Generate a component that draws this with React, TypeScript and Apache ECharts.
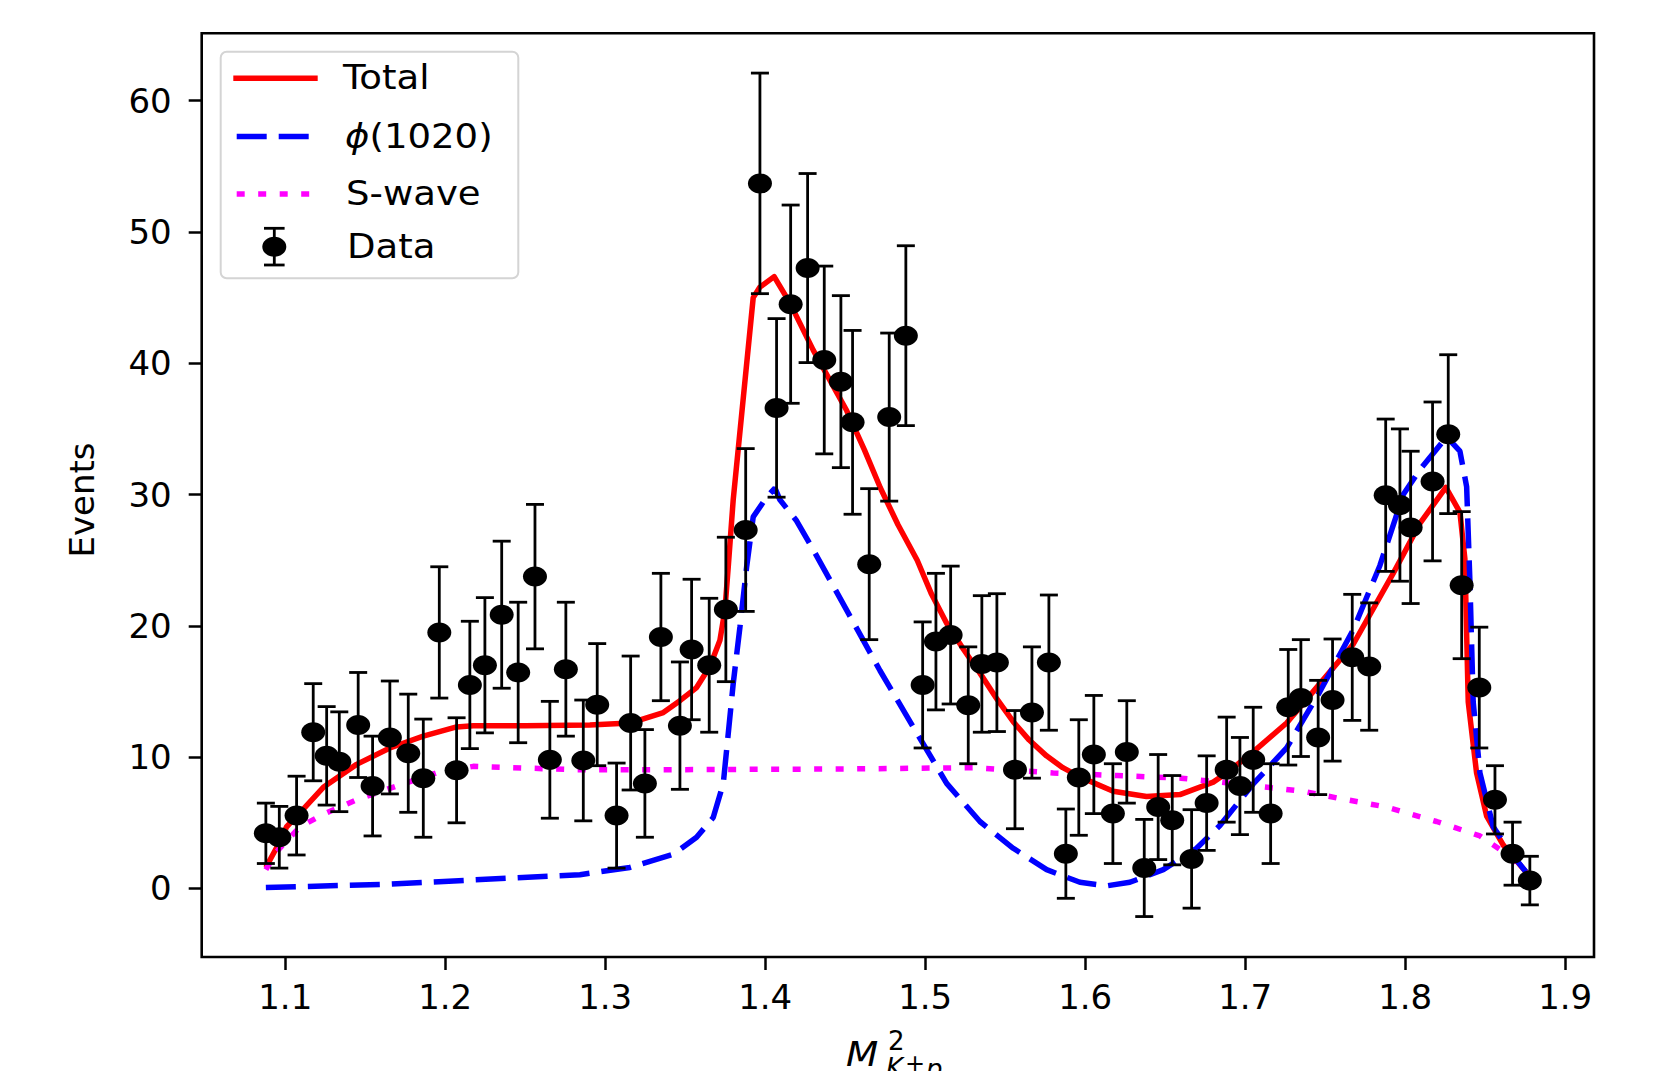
import React, { useEffect, useRef } from "react";
import * as echarts from "echarts";

// ---- Data ----
const dataX = [1.0879,1.0963,1.1071,1.1175,1.1259,1.1338,1.1456,1.1546,1.1654,1.1769,
  1.1863,1.1963,1.2071,1.2154,1.2248,1.2353,1.2456,1.2561,1.2654,1.2754,
  1.2863,1.2950,1.3071,1.3159,1.3248,1.3348,1.3467,1.3540,1.3650,1.3754,
  1.3878,1.3967,1.4071,1.4159,1.4265,1.4369,1.4473,1.4546,1.4650,1.4775,
  1.4879,1.4984,1.5067,1.5159,1.5269,1.5354,1.5448,1.5561,1.5667,1.5773,
  1.5879,1.5960,1.6054,1.6173,1.6260,1.6369,1.6456,1.6544,1.6665,1.6759,
  1.6884,1.6967,1.7050,1.7159,1.7269,1.7348,1.7456,1.7546,1.7669,1.7775,
  1.7878,1.7967,1.8034,1.8171,1.8269,1.8353,1.8463,1.8561,1.8671,1.8779];
const dataY = [4.2,3.9,5.55,11.9,10.1,9.65,12.45,7.8,11.5,10.3,
  8.4,19.5,9.0,15.5,17.0,20.85,16.45,23.75,9.8,16.7,
  9.75,14.0,5.55,12.6,8.0,19.15,12.4,18.2,17.0,21.25,
  27.3,53.7,36.6,44.5,47.25,40.25,38.6,35.5,24.7,35.9,
  42.1,15.5,18.8,19.3,13.95,17.1,17.2,9.05,13.4,17.2,
  2.65,8.45,10.2,5.7,10.4,1.56,6.2,5.2,2.25,6.5,
  9.05,7.8,9.8,5.7,13.8,14.5,11.5,14.35,17.6,16.9,
  29.95,29.2,27.5,31.0,34.6,23.1,15.3,6.75,2.65,0.6];
const dataErr = [2.3,2.35,3.0,3.7,3.75,3.8,4.0,3.8,4.3,4.5,
  4.5,5.0,4.0,4.85,5.15,5.6,5.35,5.5,4.45,5.1,
  4.6,4.65,4.0,5.1,4.1,4.85,4.85,5.35,5.1,5.5,
  6.2,8.4,6.8,7.55,7.2,7.15,6.55,7.0,5.75,6.4,
  6.85,4.8,5.2,5.25,4.45,5.2,5.25,4.5,5.0,5.15,
  3.4,4.4,4.5,3.8,3.9,3.7,4.0,3.4,3.75,3.6,
  4.0,3.7,4.0,3.8,4.4,4.45,4.35,4.65,4.8,4.85,
  5.8,5.8,5.8,6.05,6.05,5.6,4.6,2.6,2.4,1.85];

const totalX = [1.0879,1.0950,1.1009,1.1113,1.1238,1.1446,1.1654,1.1863,1.2071,1.2175,1.2500,1.2904,1.3154,1.3363,1.3467,1.3571,1.3654,1.3717,1.3748,1.3769,1.3800,1.3925,1.3967,1.4056,1.4154,1.4300,1.4509,1.4620,1.4720,1.4830,1.4950,1.5040,1.5134,1.5240,1.5342,1.5450,1.5550,1.5650,1.5758,1.5860,1.5967,1.6175,1.6383,1.6592,1.6800,1.6884,1.7050,1.7259,1.7467,1.7675,1.7925,1.8092,1.8254,1.8342,1.8373,1.8394,1.8446,1.8509,1.8613,1.8779];
const totalY = [1.6,3.2,4.7,6.05,7.7,9.45,10.7,11.6,12.3,12.4,12.4,12.45,12.6,13.4,14.3,15.3,16.9,18.9,21.2,24.5,29.6,45.0,45.8,46.6,44.6,41.0,36.4,33.4,30.5,27.7,25.0,22.4,20.2,18.2,16.4,14.4,12.7,11.3,10.1,9.2,8.5,7.4,7.0,7.15,8.1,8.8,10.4,12.6,15.6,18.6,24.0,27.8,30.55,28.65,25.1,14.2,8.8,5.5,3.3,0.9];

const phiX = [1.0879,1.1654,1.2842,1.3154,1.3425,1.3571,1.3675,1.3738,1.3769,1.3800,1.3842,1.3884,1.3925,1.4009,1.4061,1.4092,1.4196,1.4300,1.4509,1.4717,1.4925,1.5134,1.5342,1.5550,1.5759,1.5967,1.6134,1.6279,1.6488,1.6696,1.6842,1.7050,1.7259,1.7467,1.7675,1.7842,1.7988,1.8092,1.8259,1.8342,1.8384,1.8404,1.8425,1.8467,1.8550,1.8654,1.8779];
const phiY = [0.07,0.33,1.05,1.6,2.6,3.9,5.4,8.0,11.8,15.6,19.9,24.5,28.3,29.8,30.5,29.6,28.0,25.8,21.2,16.6,12.3,8.0,5.1,3.06,1.43,0.47,0.2,0.47,1.43,3.06,4.8,7.96,10.7,15.0,19.7,24.6,30.0,31.9,34.4,33.3,30.6,23.5,14.2,8.8,4.7,2.8,0.9];

const swaveX = [1.0879,1.0946,1.1092,1.1238,1.1446,1.1696,1.1946,1.2175,1.2800,1.3500,1.4500,1.5300,1.5800,1.6200,1.6600,1.6842,1.7363,1.7571,1.7884,1.8196,1.8467,1.8613,1.8779];
const swaveY = [1.43,2.8,4.7,5.65,6.75,7.8,8.8,9.3,9.05,9.05,9.1,9.2,8.8,8.6,8.4,8.1,7.4,6.9,6.2,5.1,4.0,2.8,0.9];

const xTicks = [1.1, 1.2, 1.3, 1.4, 1.5, 1.6, 1.7, 1.8, 1.9];
const yTicks = [0, 10, 20, 30, 40, 50, 60];

const FONT = "DejaVu Sans";

export default function App() {
  const ref = useRef<HTMLDivElement>(null);
  useEffect(() => {
    if (!ref.current) return;
    const chart = echarts.init(ref.current, null, { renderer: "svg" });
    const zip = (xs: number[], ys: number[]) => xs.map((x, i) => [x, ys[i]]);
    const legendText = (text: string, x: number, y: number, extra: any = {}) => ({
      type: "text", z: 101, x, y, scaleX: 1.09,
      style: { text, font: `34px '${FONT}'`, fill: "#000", verticalAlign: "middle", align: "left", ...extra },
    });
    const option: any = {
      animation: false,
      backgroundColor: "#ffffff",
      grid: {
        left: 201.7, top: 33.3, right: 67, bottom: 114,
        show: true, borderColor: "#000", borderWidth: 2.6,
        backgroundColor: "transparent",
        containLabel: false, outerBoundsMode: "none",
      },
      xAxis: {
        type: "value", min: 1.0478, max: 1.918, position: "bottom",
        axisLine: { show: false, onZero: false },
        splitLine: { show: false },
        axisTick: { show: true, length: 13, customValues: xTicks, lineStyle: { color: "#000", width: 2.5 } },
        axisLabel: {
          customValues: xTicks, margin: 23, fontSize: 34, fontFamily: FONT, color: "#000",
          formatter: (v: number) => v.toFixed(1),
        },
      },
      yAxis: {
        type: "value", min: -5.22, max: 65.13, position: "left",
        axisLine: { show: false, onZero: false },
        splitLine: { show: false },
        axisTick: { show: true, length: 13, customValues: yTicks, lineStyle: { color: "#000", width: 2.5 } },
        axisLabel: {
          customValues: yTicks, margin: 30, fontSize: 34, fontFamily: FONT, color: "#000",
          formatter: (v: number) => String(Math.round(v)),
        },
      },
      series: [
        {
          name: "Total", type: "line", data: zip(totalX, totalY), showSymbol: false, z: 3,
          lineStyle: { color: "#ff0000", width: 5.5, cap: "butt", join: "round" },
        },
        {
          name: "φ(1020)", type: "line", data: zip(phiX, phiY), showSymbol: false, z: 4,
          lineStyle: { color: "#0000ff", width: 5.5, type: [30, 12], cap: "butt" },
        },
        {
          name: "S-wave", type: "line", data: zip(swaveX, swaveY), showSymbol: false, z: 4,
          lineStyle: { color: "#ff00ff", width: 5.5, type: [8, 13.5], cap: "butt" },
        },
        {
          name: "Data", type: "custom", z: 5,
          data: dataX.map((x, i) => [x, dataY[i], dataErr[i]]),
          encode: { x: 0, y: 1 },
          renderItem: (params: any, api: any) => {
            const x = api.value(0), y = api.value(1), e = api.value(2);
            const c = api.coord([x, y]);
            const t = api.coord([x, y + e]);
            const b = api.coord([x, y - e]);
            const st = { stroke: "#000", lineWidth: 2.8 };
            return {
              type: "group",
              children: [
                { type: "line", shape: { x1: c[0], y1: t[1], x2: c[0], y2: b[1] }, style: st },
                { type: "line", shape: { x1: c[0] - 9, y1: t[1], x2: c[0] + 9, y2: t[1] }, style: st },
                { type: "line", shape: { x1: c[0] - 9, y1: b[1], x2: c[0] + 9, y2: b[1] }, style: st },
                { type: "ellipse", shape: { cx: c[0], cy: c[1], rx: 12, ry: 10 }, style: { fill: "#000" } },
              ],
            };
          },
        },
      ],
      graphic: [
        // legend box
        { type: "rect", z: 100, shape: { x: 220.7, y: 51.7, width: 297.6, height: 226.6, r: 6 },
          style: { fill: "rgba(255,255,255,0.8)", stroke: "#d4d4d4", lineWidth: 2 } },
        { type: "line", z: 101, shape: { x1: 233.3, y1: 78.3, x2: 317.7, y2: 78.3 },
          style: { stroke: "#ff0000", lineWidth: 5.5 } },
        { type: "line", z: 101, shape: { x1: 236.7, y1: 136.5, x2: 310, y2: 136.5 },
          style: { stroke: "#0000ff", lineWidth: 5.5, lineDash: [30, 12] } },
        { type: "line", z: 101, shape: { x1: 236.7, y1: 194, x2: 310, y2: 194 },
          style: { stroke: "#ff00ff", lineWidth: 5.5, lineDash: [8, 13.5] } },
        { type: "line", z: 101, shape: { x1: 274.3, y1: 228.3, x2: 274.3, y2: 265 },
          style: { stroke: "#000", lineWidth: 2.8 } },
        { type: "line", z: 101, shape: { x1: 264, y1: 228.3, x2: 284.6, y2: 228.3 },
          style: { stroke: "#000", lineWidth: 2.8 } },
        { type: "line", z: 101, shape: { x1: 264, y1: 265, x2: 284.6, y2: 265 },
          style: { stroke: "#000", lineWidth: 2.8 } },
        { type: "ellipse", z: 101, shape: { cx: 274.3, cy: 246.7, rx: 12, ry: 10 }, style: { fill: "#000" } },
        legendText("Total", 343, 77),
        legendText("{i|ϕ}(1020)", 345, 136.5, {
          rich: { i: { fontStyle: "italic", fontSize: 34, fontFamily: FONT, fill: "#000" } },
        }),
        legendText("S-wave", 346, 193),
        legendText("Data", 347, 246),
        // y axis title
        { type: "text", z: 101, x: 82, y: 500, rotation: Math.PI / 2,
          style: { text: "Events", font: `34px '${FONT}'`, fill: "#000", verticalAlign: "middle", align: "center" } },
        // x axis title M^2_{K^+p}
        { type: "text", z: 101, x: 846, y: 1054, scaleX: 1.1,
          style: { text: "M", font: `italic 34px '${FONT}'`, fill: "#000", verticalAlign: "middle", align: "left" } },
        { type: "text", z: 101, x: 888, y: 1041,
          style: { text: "2", font: `26px '${FONT}'`, fill: "#000", verticalAlign: "middle", align: "left" } },
        { type: "text", z: 101, x: 886, y: 1068,
          style: { text: "K", font: `italic 26px '${FONT}'`, fill: "#000", verticalAlign: "middle", align: "left" } },
        { type: "text", z: 101, x: 905, y: 1064,
          style: { text: "+", font: `24px '${FONT}'`, fill: "#000", verticalAlign: "middle", align: "left" } },
        { type: "text", z: 101, x: 926, y: 1069,
          style: { text: "p", font: `italic 26px '${FONT}'`, fill: "#000", verticalAlign: "middle", align: "left" } },
      ],
    };
    chart.setOption(option);
    return () => chart.dispose();
  }, []);
  return (
    <div
      ref={ref}
      style={{ position: "absolute", left: 0, top: 0, width: 1661, height: 1071, background: "#fff" }}
    />
  );
}
